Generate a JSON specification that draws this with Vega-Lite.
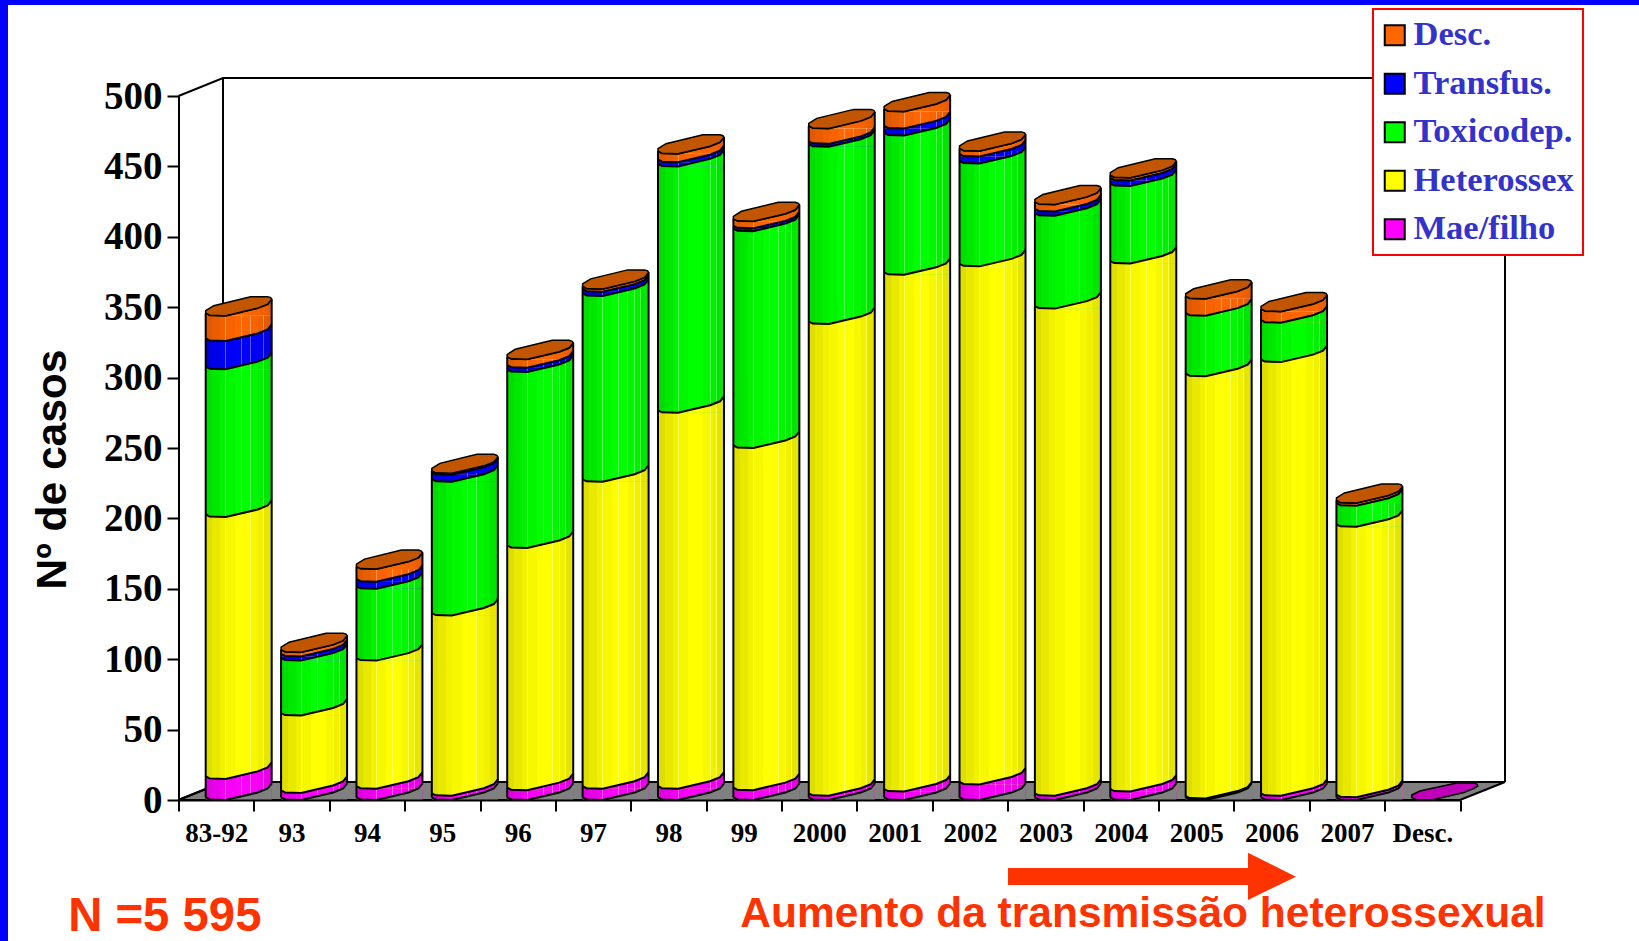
{
"$schema":"https://vega.github.io/schema/vega-lite/v6.json",
"width":1281.5,"height":704,
"autosize":{"type":"none"},
"padding":{"left":178.5,"top":96,"right":179,"bottom":141},
"background":"white",
"config":{"view":{"stroke":null},"legend":{"strokeWidth":2}},
"datasets":{
"ancora":[{"ano":"83-92","valor":0}],
"notas":[{"ano":"2000","valor":-90.2,"texto":"Aumento da transmissão heterossexual"}],
"notaN":[{"ano":"83-92","valor":-93,"texto":"N =5 595"}],
"casos":[
{"ano":"83-92","categoria":"Desc.","ordem":5,"valor":18},{"ano":"83-92","categoria":"Transfus.","ordem":4,"valor":20},{"ano":"83-92","categoria":"Toxicodep.","ordem":3,"valor":105},{"ano":"83-92","categoria":"Heterossex","ordem":2,"valor":186},{"ano":"83-92","categoria":"Mae/filho","ordem":1,"valor":15},
{"ano":"93","categoria":"Desc.","ordem":5,"valor":3},{"ano":"93","categoria":"Transfus.","ordem":4,"valor":3},{"ano":"93","categoria":"Toxicodep.","ordem":3,"valor":39},{"ano":"93","categoria":"Heterossex","ordem":2,"valor":55},{"ano":"93","categoria":"Mae/filho","ordem":1,"valor":5},
{"ano":"94","categoria":"Desc.","ordem":5,"valor":9},{"ano":"94","categoria":"Transfus.","ordem":4,"valor":5},{"ano":"94","categoria":"Toxicodep.","ordem":3,"valor":51},{"ano":"94","categoria":"Heterossex","ordem":2,"valor":91},{"ano":"94","categoria":"Mae/filho","ordem":1,"valor":8},
{"ano":"95","categoria":"Desc.","ordem":5,"valor":1},{"ano":"95","categoria":"Transfus.","ordem":4,"valor":5},{"ano":"95","categoria":"Toxicodep.","ordem":3,"valor":95},{"ano":"95","categoria":"Heterossex","ordem":2,"valor":128},{"ano":"95","categoria":"Mae/filho","ordem":1,"valor":3},
{"ano":"96","categoria":"Desc.","ordem":5,"valor":6},{"ano":"96","categoria":"Transfus.","ordem":4,"valor":3},{"ano":"96","categoria":"Toxicodep.","ordem":3,"valor":125},{"ano":"96","categoria":"Heterossex","ordem":2,"valor":172},{"ano":"96","categoria":"Mae/filho","ordem":1,"valor":7},
{"ano":"97","categoria":"Desc.","ordem":5,"valor":2},{"ano":"97","categoria":"Transfus.","ordem":4,"valor":3},{"ano":"97","categoria":"Toxicodep.","ordem":3,"valor":132},{"ano":"97","categoria":"Heterossex","ordem":2,"valor":218},{"ano":"97","categoria":"Mae/filho","ordem":1,"valor":8},
{"ano":"98","categoria":"Desc.","ordem":5,"valor":6},{"ano":"98","categoria":"Transfus.","ordem":4,"valor":3},{"ano":"98","categoria":"Toxicodep.","ordem":3,"valor":175},{"ano":"98","categoria":"Heterossex","ordem":2,"valor":267},{"ano":"98","categoria":"Mae/filho","ordem":1,"valor":8},
{"ano":"99","categoria":"Desc.","ordem":5,"valor":5},{"ano":"99","categoria":"Transfus.","ordem":4,"valor":2},{"ano":"99","categoria":"Toxicodep.","ordem":3,"valor":154},{"ano":"99","categoria":"Heterossex","ordem":2,"valor":243},{"ano":"99","categoria":"Mae/filho","ordem":1,"valor":7},
{"ano":"2000","categoria":"Desc.","ordem":5,"valor":11},{"ano":"2000","categoria":"Transfus.","ordem":4,"valor":2},{"ano":"2000","categoria":"Toxicodep.","ordem":3,"valor":126},{"ano":"2000","categoria":"Heterossex","ordem":2,"valor":335},{"ano":"2000","categoria":"Mae/filho","ordem":1,"valor":3},
{"ano":"2001","categoria":"Desc.","ordem":5,"valor":12},{"ano":"2001","categoria":"Transfus.","ordem":4,"valor":5},{"ano":"2001","categoria":"Toxicodep.","ordem":3,"valor":99},{"ano":"2001","categoria":"Heterossex","ordem":2,"valor":367},{"ano":"2001","categoria":"Mae/filho","ordem":1,"valor":6},
{"ano":"2002","categoria":"Desc.","ordem":5,"valor":4},{"ano":"2002","categoria":"Transfus.","ordem":4,"valor":5},{"ano":"2002","categoria":"Toxicodep.","ordem":3,"valor":73},{"ano":"2002","categoria":"Heterossex","ordem":2,"valor":368},{"ano":"2002","categoria":"Mae/filho","ordem":1,"valor":11},
{"ano":"2003","categoria":"Desc.","ordem":5,"valor":5},{"ano":"2003","categoria":"Transfus.","ordem":4,"valor":3},{"ano":"2003","categoria":"Toxicodep.","ordem":3,"valor":66},{"ano":"2003","categoria":"Heterossex","ordem":2,"valor":346},{"ano":"2003","categoria":"Mae/filho","ordem":1,"valor":3},
{"ano":"2004","categoria":"Desc.","ordem":5,"valor":2},{"ano":"2004","categoria":"Transfus.","ordem":4,"valor":4},{"ano":"2004","categoria":"Toxicodep.","ordem":3,"valor":55},{"ano":"2004","categoria":"Heterossex","ordem":2,"valor":375},{"ano":"2004","categoria":"Mae/filho","ordem":1,"valor":6},
{"ano":"2005","categoria":"Desc.","ordem":5,"valor":12},{"ano":"2005","categoria":"Toxicodep.","ordem":3,"valor":43},{"ano":"2005","categoria":"Heterossex","ordem":2,"valor":300},{"ano":"2005","categoria":"Mae/filho","ordem":1,"valor":1},
{"ano":"2006","categoria":"Desc.","ordem":5,"valor":8},{"ano":"2006","categoria":"Toxicodep.","ordem":3,"valor":28},{"ano":"2006","categoria":"Heterossex","ordem":2,"valor":308},{"ano":"2006","categoria":"Mae/filho","ordem":1,"valor":3},
{"ano":"2007","categoria":"Desc.","ordem":5,"valor":2},{"ano":"2007","categoria":"Toxicodep.","ordem":3,"valor":15},{"ano":"2007","categoria":"Heterossex","ordem":2,"valor":192},{"ano":"2007","categoria":"Mae/filho","ordem":1,"valor":2},
{"ano":"Desc.","categoria":"Mae/filho","ordem":1,"valor":1}
]},
"data":{"name":"casos"},
"transform":[{"stack":"valor","groupby":["ano"],"sort":[{"field":"ordem","order":"ascending"}],"as":["base","topo"]}],
"encoding":{
"x":{"field":"ano","type":"nominal","sort":null,
 "scale":{"type":"band","domain":["83-92","93","94","95","96","97","98","99","2000","2001","2002","2003","2004","2005","2006","2007","Desc."],"paddingInner":0,"paddingOuter":0},
 "axis":{"title":null,"labelAngle":0,"labelFont":"Liberation Serif","labelFontWeight":"bold","labelFontSize":27,"labelColor":"black","labelPadding":9,"tickBand":"extent","tickSize":11,"tickWidth":2,"tickColor":"black","domainColor":"black","domainWidth":2,"zindex":1,"labelFlush":false,"labelOverlap":false}}
},
"layer":[
{"data":{"name":"ancora"},"transform":[],"mark":{"type":"point","filled":true,"size":4,"opacity":1,"xOffset":-37.69,"shape":"M0,0 L44.5,-18 L1326.5,-18 L1281.5,0 Z","fill":"#808080","stroke":"black","strokeWidth":2},"encoding":{"y":{"field":"valor","type":"quantitative"}}},
{"data":{"name":"ancora"},"transform":[],"mark":{"type":"point","filled":false,"size":4,"opacity":1,"xOffset":-37.69,"shape":"M0,-704 L44.5,-722 L1326.5,-722 L1326.5,-18 M44.5,-722 L44.5,-18 M0,0 L44.5,-18","stroke":"black","strokeWidth":2},"encoding":{"y":{"field":"valor","type":"quantitative"}}},
{"data":{"name":"ancora"},"transform":[],"mark":{"type":"point","filled":true,"size":4,"opacity":1,"xOffset":-37.69,"shape":"M-178.5,-800 L1460.5,-800 L1460.5,-795 L-170.5,-795 L-170.5,141 L-178.5,141 Z","fill":"#0000FF","strokeWidth":0},"encoding":{"y":{"field":"valor","type":"quantitative"}}},
{"data":{"name":"ancora"},"transform":[],"mark":{"type":"point","filled":true,"size":4,"opacity":1,"xOffset":-37.69,"shape":"M829.5,68 L1069.5,68 L1069.5,52.7 L1117.5,76.7 L1069.5,100 L1069.5,85 L829.5,85 Z","fill":"#FF3300","strokeWidth":0},"encoding":{"y":{"field":"valor","type":"quantitative"}}},
{"transform":[{"filter":"datum.ano!='Desc.'"}],"mark":{"type":"bar","width":66,"xOffset":22.5,"strokeWidth":0},
 "encoding":{"y":{"field":"topo","type":"quantitative","stack":null,"title":"Nº de casos","scale":{"domain":[0,500],"nice":false,"zero":true},
   "axis":{"values":[0,50,100,150,200,250,300,350,400,450,500],"grid":false,"labelFont":"Liberation Serif","labelFontWeight":"bold","labelFontSize":39,"labelColor":"black","labelPadding":5,"tickSize":11.5,"tickWidth":2,"tickColor":"black","domainColor":"black","domainWidth":2,"zindex":1,"labelOverlap":false,"labelFlush":false,"titleFont":"Liberation Sans","titleFontWeight":"bold","titleFontSize":42.5,"titleColor":"black","titleX":-126.5,"titleY":373,"titleAngle":-90,"titleAlign":"center","titleBaseline":"middle"}},
  "y2":{"field":"base"},
  "color":{"field":"categoria","type":"nominal",
   "scale":{"domain":["Desc.","Transfus.","Toxicodep.","Heterossex","Mae/filho"],"range":["#FF6600","#0000FF","#00FF00","#FFFF00","#FF00FF"]},
   "legend":{"title":null,"orient":"none","legendX":1194.5,"legendY":-87,"symbolType":"square","symbolSize":400,"symbolStrokeColor":"black","symbolStrokeWidth":2,"symbolOpacity":1,"labelFont":"Liberation Serif","labelFontWeight":"bold","labelFontSize":34.5,"labelColor":"#3333CC","labelOffset":1.5,"symbolOffset":-4.5,"rowPadding":13.5,"padding":9,"strokeColor":"#FF0000","fillColor":"white","labelLimit":300}}}},
{"transform":[{"filter":"datum.ano!='Desc.'"}],"mark":{"type":"point","filled":true,"size":4,"opacity":1,"xOffset":22.5,"strokeWidth":0,"shape":"M-33,-2.5 L-29,-0.5 L-13,0 L19,-7.5 L29,-11.5 L33,-16.5 L33,0 L-33,0 Z"},
 "encoding":{"y":{"field":"topo","type":"quantitative","stack":null},
  "color":{"field":"categoria","type":"nominal","scale":{"domain":["Desc.","Transfus.","Toxicodep.","Heterossex","Mae/filho"],"range":["#FF6600","#0000FF","#00FF00","#FFFF00","#FF00FF"]},"legend":null}}},
{"transform":[{"filter":"datum.ordem==5"}],
 "mark":{"type":"bar","width":66,"xOffset":22.5,"strokeWidth":0,"fill":{"gradient":"linear","x1":0,"x2":1,"y1":0,"y2":0,"stops":[{"offset":0,"color":"rgba(0,0,0,0.13)"},{"offset":0.1,"color":"rgba(0,0,0,0.13)"},{"offset":0.1,"color":"rgba(0,0,0,0.09)"},{"offset":0.22,"color":"rgba(0,0,0,0.09)"},{"offset":0.22,"color":"rgba(0,0,0,0.05)"},{"offset":0.3,"color":"rgba(0,0,0,0.05)"},{"offset":0.3,"color":"rgba(255,255,255,0.35)"},{"offset":0.312,"color":"rgba(255,255,255,0.35)"},{"offset":0.312,"color":"rgba(0,0,0,0.03)"},{"offset":0.45,"color":"rgba(0,0,0,0.03)"},{"offset":0.45,"color":"rgba(0,0,0,0)"},{"offset":0.54,"color":"rgba(0,0,0,0)"},{"offset":0.54,"color":"rgba(255,255,255,0.35)"},{"offset":0.552,"color":"rgba(255,255,255,0.35)"},{"offset":0.552,"color":"rgba(0,0,0,0)"},{"offset":0.675,"color":"rgba(0,0,0,0)"},{"offset":0.675,"color":"rgba(255,255,255,0.35)"},{"offset":0.687,"color":"rgba(255,255,255,0.35)"},{"offset":0.687,"color":"rgba(0,0,0,0.03)"},{"offset":0.785,"color":"rgba(0,0,0,0.03)"},{"offset":0.785,"color":"rgba(255,255,255,0.35)"},{"offset":0.797,"color":"rgba(255,255,255,0.35)"},{"offset":0.797,"color":"rgba(0,0,0,0.06)"},{"offset":0.875,"color":"rgba(0,0,0,0.06)"},{"offset":0.875,"color":"rgba(255,255,255,0.3)"},{"offset":0.887,"color":"rgba(255,255,255,0.3)"},{"offset":0.887,"color":"rgba(0,0,0,0.1)"},{"offset":1,"color":"rgba(0,0,0,0.1)"}]}},
 "encoding":{"y":{"field":"topo","type":"quantitative","stack":null},"y2":{"datum":0}}},
{"transform":[{"filter":"datum.ordem==5"}],
 "mark":{"type":"point","filled":true,"size":4,"opacity":1,"xOffset":22.5,"strokeWidth":0,"shape":"M-33,-2.5 L-29,-0.5 L-13,0 L19,-7.5 L29,-11.5 L33,-16.5 L33,0 L-33,0 Z","fill":{"gradient":"linear","x1":0,"x2":1,"y1":0,"y2":0,"stops":[{"offset":0,"color":"rgba(0,0,0,0.13)"},{"offset":0.22,"color":"rgba(0,0,0,0.09)"},{"offset":0.5,"color":"rgba(0,0,0,0)"},{"offset":0.8,"color":"rgba(0,0,0,0.03)"},{"offset":1,"color":"rgba(0,0,0,0.1)"}]}},
 "encoding":{"y":{"field":"topo","type":"quantitative","stack":null}}},
{"transform":[{"filter":"datum.ordem==1 && datum.ano!='Desc.'"}],
 "mark":{"type":"point","filled":true,"size":4,"opacity":1,"xOffset":22.5,"strokeWidth":0,"fill":"#808080","shape":"M-33,-2.5 L-29,-0.5 L-13,0 L19,-7.5 L29,-11.5 L33,-16.5 L33,0 L-33,0 Z"},
 "encoding":{"y":{"field":"base","type":"quantitative"}}},
{"transform":[{"filter":"datum.ordem==5"}],
 "mark":{"type":"rule","xOffset":-10.5,"yOffset":-2.5,"y2Offset":-2.5,"stroke":"black","strokeWidth":2},
 "encoding":{"y":{"field":"topo","type":"quantitative","stack":null},"y2":{"datum":0}}},
{"transform":[{"filter":"datum.ordem==5"}],
 "mark":{"type":"rule","xOffset":55.5,"yOffset":-16.5,"y2Offset":-16.5,"stroke":"black","strokeWidth":2},
 "encoding":{"y":{"field":"topo","type":"quantitative","stack":null},"y2":{"datum":0}}},
{"transform":[{"filter":"datum.ano!='Desc.'"}],"mark":{"type":"point","filled":false,"size":4,"opacity":1,"xOffset":22.5,"stroke":"black","strokeWidth":2,"shape":"M-33,-2.5 L-29,-0.5 L-13,0 L19,-7.5 L29,-11.5 L33,-16.5"},
 "encoding":{"y":{"field":"topo","type":"quantitative","stack":null}}},
{"transform":[{"filter":"datum.ordem==1 && datum.ano!='Desc.'"}],
 "mark":{"type":"point","filled":false,"size":4,"opacity":1,"xOffset":22.5,"stroke":"black","strokeWidth":2,"shape":"M-33,-2.5 L-29,-0.5 L-13,0 L19,-7.5 L29,-11.5 L33,-16.5"},
 "encoding":{"y":{"field":"base","type":"quantitative"}}},
{"transform":[{"filter":"datum.ordem==5"}],
 "mark":{"type":"point","filled":true,"size":4,"opacity":1,"xOffset":22.5,"fill":"#C25500","stroke":"black","strokeWidth":1.5,"shape":"M-33,-2.5 L-29,-0.5 L-13,0 L19,-7.5 L29,-11.5 L33,-16.5 L32,-18 L29,-19 L12,-19 L-25,-10 L-33,-5 Z"},
 "encoding":{"y":{"field":"topo","type":"quantitative","stack":null}}},
{"transform":[{"filter":"datum.ano=='Desc.'"}],
 "mark":{"type":"point","filled":true,"size":4,"opacity":1,"xOffset":22.5,"fill":"#C000B8","stroke":"black","strokeWidth":1.5,"shape":"M-33,-2.5 L-29,-0.5 L-13,0 L19,-7.5 L29,-11.5 L33,-14 L32,-16 L29,-17 L12,-17 L-25,-9 L-33,-5 Z"},
 "encoding":{"y":{"field":"base","type":"quantitative"}}},
{"data":{"name":"notas"},"transform":[],
 "mark":{"type":"text","align":"left","baseline":"alphabetic","xOffset":-79,"font":"Liberation Sans","fontWeight":"bold","fontSize":42.5,"color":"#FF3300"},
 "encoding":{"y":{"field":"valor","type":"quantitative"},"text":{"field":"texto"}}},
{"data":{"name":"notaN"},"transform":[],
 "mark":{"type":"text","align":"left","baseline":"alphabetic","xOffset":-148,"font":"Liberation Sans","fontWeight":"bold","fontSize":47.3,"color":"#FF3300"},
 "encoding":{"y":{"field":"valor","type":"quantitative"},"text":{"field":"texto"}}}
]
}
